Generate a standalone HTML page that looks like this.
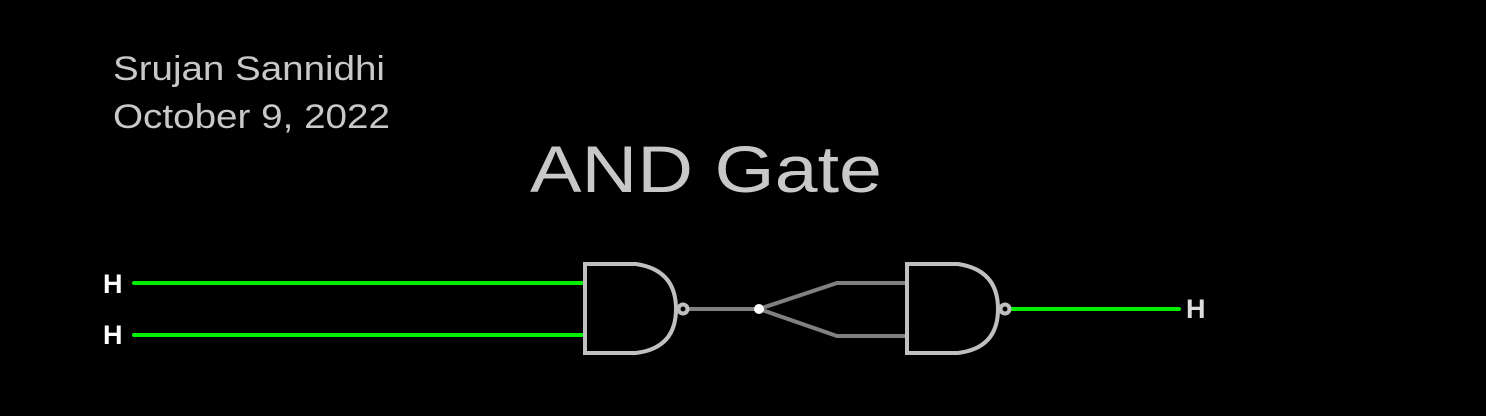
<!DOCTYPE html>
<html><head><style>
html,body{margin:0;padding:0;background:#000;width:1486px;height:416px;overflow:hidden}
</style></head><body>
<svg width="1486" height="416" xmlns="http://www.w3.org/2000/svg" style="display:block">
<rect width="1486" height="416" fill="#000"/>
<g font-family="Liberation Sans, sans-serif" fill="#c8c8c8">
<text x="113" y="80" font-size="34" textLength="272" lengthAdjust="spacingAndGlyphs">Srujan Sannidhi</text>
<text x="113" y="128" font-size="34" textLength="277" lengthAdjust="spacingAndGlyphs">October 9, 2022</text>
<text x="530" y="192" font-size="66" textLength="352" lengthAdjust="spacingAndGlyphs">AND Gate</text>
</g>
<g font-family="Liberation Sans, sans-serif" font-weight="bold" font-size="27">
<text x="103" y="293" fill="#fff">H</text>
<text x="103" y="344" fill="#fff">H</text>
<text x="1186" y="318" fill="#ddd">H</text>
</g>
<g stroke="#00ee00" stroke-width="4" stroke-linecap="round">
<line x1="134" y1="283" x2="585" y2="283"/>
<line x1="134" y1="335" x2="585" y2="335"/>
<line x1="1010" y1="309" x2="1179" y2="309"/>
</g>
<g stroke="#808080" stroke-width="4" fill="none">
<line x1="687" y1="309" x2="759" y2="309"/>
<polyline points="907,283 837,283 759,309 837,336 907,336"/>
</g>
<circle cx="759" cy="309" r="5" fill="#fff"/>
<g stroke="#c0c0c0" stroke-width="4" fill="none">
<path d="M585,264 L636,264 Q676,270 676,309 Q676,348 636,353 L585,353 Z"/>
<circle cx="683" cy="309" r="4.5"/>
<path d="M907,264 L958,264 Q998,270 998,309 Q998,348 958,353 L907,353 Z"/>
<circle cx="1005" cy="309" r="4.5"/>
</g>
</svg>
</body></html>
